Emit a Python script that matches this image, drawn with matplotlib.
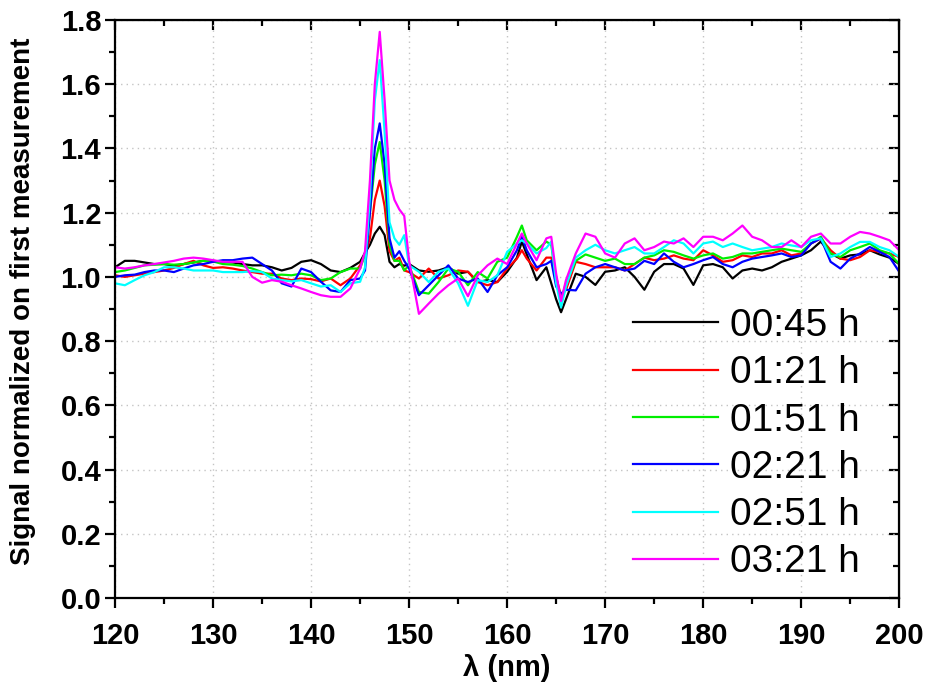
import numpy as np
import matplotlib
matplotlib.use('Agg')
import matplotlib.pyplot as plt
from matplotlib.ticker import MultipleLocator

# wavelength grid (nm), finer around the 147 nm peak and the 165 nm dip
wavelength = [120, 121, 122, 123, 124, 125, 126, 127, 128, 129, 130, 131, 132, 133, 134,
              135, 136, 137, 138, 139, 140, 141, 142, 143, 144, 145,
              145.5, 146, 146.5, 147, 147.5, 148, 148.5, 149, 149.5,
              150, 151, 152, 153, 154, 155, 156, 157, 158, 159, 160, 161, 161.5,
              162, 163, 164, 164.5, 165, 165.5, 166,
              167, 168, 169, 170, 171, 172, 173, 174, 175, 176, 177, 178, 179, 180,
              181, 182, 183, 184, 185, 186, 187, 188, 189, 190, 191, 192, 193, 194,
              195, 196, 197, 198, 199, 200]

sig_0045 = [1.03, 1.05, 1.05, 1.045, 1.04, 1.04, 1.035, 1.04, 1.045, 1.05, 1.05, 1.047, 1.045, 1.04, 1.036,
            1.036, 1.03, 1.02, 1.028, 1.047, 1.052, 1.04, 1.02, 1.015, 1.028, 1.047,
            1.075, 1.10, 1.135, 1.156, 1.13, 1.047, 1.03, 1.04, 1.035,
            1.04, 1.02, 1.016, 1.02, 1.03, 1.01, 1.016, 0.984, 0.99, 0.984, 1.016, 1.06, 1.11,
            1.07, 0.99, 1.03, 0.98, 0.93, 0.89, 0.93,
            1.01, 1.0, 0.975, 1.016, 1.02, 1.03, 1.0, 0.96, 1.016, 1.04, 1.04, 1.026, 0.975, 1.036,
            1.04, 1.03, 0.995, 1.02, 1.026, 1.02, 1.03, 1.047, 1.057, 1.067, 1.083, 1.11, 1.073, 1.057,
            1.067, 1.07, 1.083, 1.07, 1.06, 1.04]

sig_0121 = [1.005, 1.0, 1.005, 1.01, 1.015, 1.02, 1.028, 1.04, 1.05, 1.036, 1.028, 1.03, 1.026, 1.02, 1.015,
            1.01, 1.01, 0.995, 0.99, 0.995, 0.993, 0.986, 0.995, 0.974, 0.995, 1.036,
            1.07, 1.12, 1.24, 1.30, 1.22, 1.08, 1.05, 1.06, 1.02,
            1.015, 0.995, 1.026, 0.995, 1.005, 1.02, 1.016, 0.984, 0.974, 0.984, 1.026, 1.057, 1.083,
            1.057, 1.02, 1.06, 1.06, 1.0, 0.94, 0.96,
            1.047, 1.04, 1.03, 1.03, 1.03, 1.02, 1.04, 1.06, 1.052, 1.057, 1.067, 1.057, 1.052, 1.083,
            1.067, 1.047, 1.052, 1.067, 1.062, 1.073, 1.073, 1.083, 1.067, 1.073, 1.104, 1.12, 1.083, 1.057,
            1.052, 1.062, 1.083, 1.078, 1.073, 1.062]

sig_0151 = [1.015, 1.02, 1.028, 1.036, 1.038, 1.04, 1.038, 1.04, 1.045, 1.05, 1.048, 1.04, 1.038, 1.034, 1.026,
            1.015, 1.005, 1.007, 1.005, 1.01, 1.005, 0.99, 0.995, 1.015, 1.026, 1.026,
            1.07, 1.2, 1.35, 1.42, 1.3, 1.1, 1.05, 1.05, 1.02,
            1.036, 0.953, 0.948, 0.984, 1.026, 1.016, 0.974, 1.015, 0.995, 1.047, 1.06, 1.125, 1.16,
            1.114, 1.083, 1.11, 1.10, 0.99, 0.93, 0.98,
            1.05, 1.07, 1.06, 1.05, 1.057, 1.04, 1.04, 1.06, 1.067, 1.083, 1.078, 1.067, 1.057, 1.067,
            1.073, 1.057, 1.062, 1.073, 1.073, 1.078, 1.083, 1.088, 1.083, 1.078, 1.104, 1.125, 1.073, 1.062,
            1.083, 1.093, 1.104, 1.083, 1.073, 1.04]

sig_0221 = [1.0, 1.005, 1.007, 1.015, 1.02, 1.02, 1.015, 1.026, 1.036, 1.04, 1.047, 1.052, 1.052, 1.057, 1.06,
            1.04, 1.02, 0.98, 0.97, 1.026, 1.015, 0.985, 0.958, 0.953, 0.99, 0.995,
            1.02, 1.2, 1.4, 1.478, 1.35, 1.12, 1.06, 1.08, 1.05,
            1.026, 0.943, 0.974, 1.005, 1.036, 0.995, 0.984, 0.995, 0.953, 1.005, 1.03, 1.083, 1.125,
            1.083, 1.03, 1.04, 1.05, 0.97, 0.948, 0.96,
            0.958, 1.01, 1.03, 1.04, 1.03, 1.02, 1.026, 1.05, 1.04, 1.073, 1.047, 1.03, 1.04, 1.052,
            1.062, 1.04, 1.03, 1.047, 1.057, 1.062, 1.067, 1.073, 1.062, 1.067, 1.104, 1.12, 1.047, 1.026,
            1.057, 1.073, 1.093, 1.078, 1.062, 1.016]

sig_0251 = [0.98, 0.974, 0.99, 1.005, 1.015, 1.03, 1.03, 1.026, 1.02, 1.02, 1.02, 1.015, 1.015, 1.015, 1.018,
            1.015, 0.995, 0.99, 0.986, 0.99, 0.98, 0.97, 0.974, 0.953, 0.98, 0.985,
            1.03, 1.25, 1.55, 1.675, 1.45, 1.17, 1.12, 1.10, 1.13,
            1.036, 1.016, 0.984, 1.016, 1.026, 0.98, 0.91, 0.99, 0.984, 1.005, 1.078, 1.104, 1.114,
            1.104, 1.073, 1.09, 1.11, 0.98, 0.905, 0.97,
            1.06, 1.083, 1.1, 1.083, 1.073, 1.083, 1.093, 1.073, 1.073, 1.093, 1.114, 1.104, 1.073, 1.104,
            1.11, 1.093, 1.104, 1.093, 1.083, 1.088, 1.093, 1.104, 1.098, 1.093, 1.114, 1.12, 1.062, 1.073,
            1.093, 1.109, 1.109, 1.093, 1.083, 1.062]

sig_0321 = [1.03, 1.026, 1.03, 1.036, 1.04, 1.045, 1.05, 1.057, 1.06, 1.057, 1.052, 1.047, 1.047, 1.047, 1.0,
            0.982, 0.99, 0.985, 0.974, 0.964, 0.953, 0.943, 0.938, 0.938, 0.964, 1.026,
            1.08, 1.3, 1.6, 1.763, 1.55, 1.3, 1.24, 1.21, 1.19,
            1.05, 0.885, 0.917, 0.948, 0.974, 0.995, 0.94, 1.005, 1.036, 1.057, 1.04, 1.104, 1.135,
            1.104, 1.052, 1.12, 1.125, 1.01, 0.925, 0.99,
            1.073, 1.135, 1.125, 1.073, 1.06, 1.104, 1.12, 1.083, 1.093, 1.11, 1.104, 1.12, 1.093, 1.125,
            1.125, 1.114, 1.135, 1.16, 1.125, 1.114, 1.093, 1.093, 1.114, 1.093, 1.125, 1.135, 1.104, 1.104,
            1.125, 1.14, 1.135, 1.125, 1.114, 1.083]

labels = ['00:45 h', '01:21 h', '01:51 h', '02:21 h', '02:51 h', '03:21 h']
colors = ['black', 'red', '#00ee00', 'blue', 'cyan', 'magenta']
series = [sig_0045, sig_0121, sig_0151, sig_0221, sig_0251, sig_0321]

plt.rcParams['font.family'] = ['Liberation Sans', 'DejaVu Sans']

fig = plt.figure(figsize=(9.28, 6.89), dpi=100)
ax = fig.add_axes([0.124, 0.132, 0.845, 0.839])

for y, lab, col in zip(series, labels, colors):
    ax.plot(wavelength, y, color=col, lw=1.6, label=lab)

ax.xaxis.set_major_locator(MultipleLocator(10))
ax.xaxis.set_minor_locator(MultipleLocator(5))
ax.yaxis.set_major_locator(MultipleLocator(0.2))
ax.yaxis.set_minor_locator(MultipleLocator(0.1))
ax.set_xlim(120, 200)
ax.set_ylim(0.0, 1.8)
ax.grid(True, which='major', color='#c4c4c4', linestyle=(0, (1, 3)), lw=1.0)

for sp in ax.spines.values():
    sp.set_linewidth(1.6)
ax.tick_params(which='major', direction='out', length=7, width=1.6, labelsize=21)
ax.tick_params(which='minor', direction='out', length=4, width=1.6)
ax.tick_params(axis='x', which='major', pad=10)
ax.tick_params(axis='y', which='major', pad=3)
ax.xaxis.set_major_formatter(lambda v, pos: f'{v:.0f}')
ax.yaxis.set_major_formatter(lambda v, pos: f'{v:.1f}')
for t in ax.get_xticklabels() + ax.get_yticklabels():
    t.set_fontweight('bold')

# mirrored axes with inward ticks, no labels
top = ax.secondary_xaxis('top')
top.xaxis.set_major_locator(MultipleLocator(10))
top.xaxis.set_minor_locator(MultipleLocator(5))
top.tick_params(which='major', direction='in', length=7, width=1.6, labeltop=False)
top.tick_params(which='minor', direction='in', length=4, width=1.6)
right = ax.secondary_yaxis('right')
right.yaxis.set_major_locator(MultipleLocator(0.2))
right.yaxis.set_minor_locator(MultipleLocator(0.1))
right.tick_params(which='major', direction='in', length=7, width=1.6, labelright=False)
right.tick_params(which='minor', direction='in', length=4, width=1.6)

ax.set_xlabel('λ (nm)', fontsize=21, fontweight='bold', labelpad=3)
ax.set_ylabel('Signal normalized on first measurement', fontsize=20, fontweight='bold')
ax.yaxis.set_label_coords(-0.101, 0.514)

leg = ax.legend(loc='lower right', frameon=False, fontsize=28, handlelength=2.2,
                handletextpad=0.31, labelspacing=0.29, borderaxespad=0,
                bbox_to_anchor=(0.970, 0.0035))

fig.savefig('out.png', dpi=100)
